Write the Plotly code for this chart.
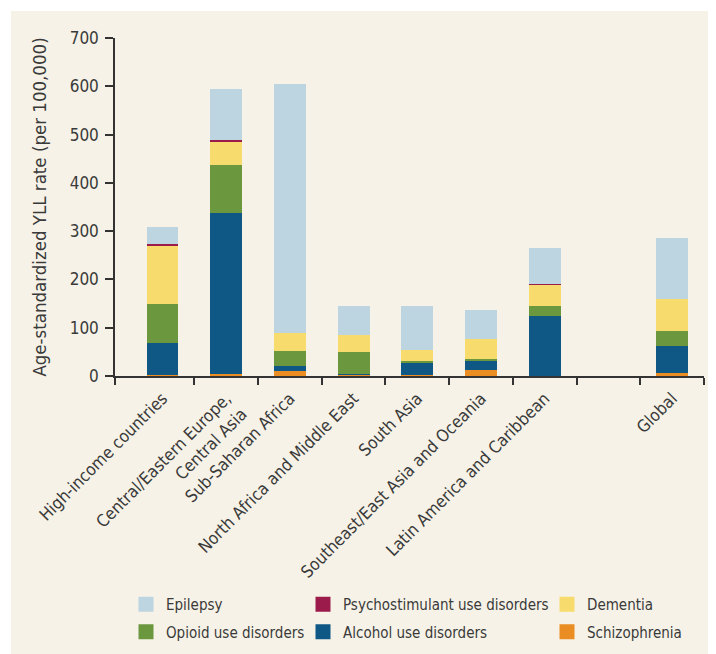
import plotly.graph_objects as go

# ---- data ----
regions = [
    "High-income countries",
    "Central/Eastern Europe,<br>Central Asia",
    "Sub-Saharan Africa",
    "North Africa and Middle East",
    "South Asia",
    "Southeast/East Asia and Oceania",
    "Latin America and Caribbean",
    "",
    "Global",
]
schizophrenia = [2, 5, 11, 3, 3, 13, 1, None, 7]
alcohol = [67, 333, 10, 2, 25, 19, 124, None, 56]
opioid = [81, 99, 31, 44, 3, 4, 19, None, 31]
dementia = [120, 48, 38, 35, 22, 40, 45, None, 66]
psychostimulant = [4, 4, 0, 0, 0, 0, 2, None, 0]
epilepsy = [35, 105, 515, 60, 93, 60, 75, None, 125]

y_ticks = [0, 100, 200, 300, 400, 500, 600, 700]
y_title = "Age-standardized YLL rate (per 100,000)"

# ---- styling ----
FONT = "DejaVu Sans Condensed, Liberation Sans Narrow, Arial Narrow, sans-serif"
TXT = "#3a3a3a"
CREAM = "#F6F2E7"
AX = "#333333"

x_pos = list(range(len(regions)))

# (name, values, colour, legend column, rank within column)
series = [
    ("Schizophrenia", schizophrenia, "#EA8E23", "legend3", 2),
    ("Alcohol use disorders", alcohol, "#0F5785", "legend2", 2),
    ("Opioid use disorders", opioid, "#6B983F", "legend", 2),
    ("Dementia", dementia, "#F7DC6D", "legend3", 1),
    ("Psychostimulant use disorders", psychostimulant, "#9B1B4B", "legend2", 1),
    ("Epilepsy", epilepsy, "#BDD5E1", "legend", 1),
]

fig = go.Figure()
for name, vals, col, lg, rank in series:
    fig.add_trace(go.Bar(
        x=x_pos, y=vals, name=name, width=0.5,
        marker=dict(color=col, line=dict(width=0)),
        legendgroup=name, showlegend=False,
    ))
    # legend key (larger square swatch than the default bar key)
    fig.add_trace(go.Scatter(
        x=[None], y=[None], mode="markers", name=name,
        marker=dict(symbol="square", size=15, color=col, line=dict(width=0)),
        legend=lg, legendgroup=name, legendrank=rank, showlegend=True,
        hoverinfo="skip",
    ))

# figure size (page has an 8px body margin) and plot area in figure pixels
FW, FH = 708, 646
L, R, T, B = 107, 696, 30, 368
W, H = R - L, B - T

def px(x):
    return (x - L) / W

def py(y):
    return (B - y) / H

x_lo = -0.745
boundaries = [x_lo] + [i + 0.5 for i in range(len(regions))]

legend_common = dict(
    orientation="v", xanchor="left", yanchor="top",
    font=dict(family=FONT, size=15, color=TXT),
    bgcolor="rgba(0,0,0,0)", traceorder="grouped",
    tracegroupgap=5, itemwidth=30,
)

fig.update_layout(
    width=FW, height=FH,
    margin=dict(l=L, r=FW - R, t=T, b=FH - B, pad=0, autoexpand=False),
    paper_bgcolor="white",
    plot_bgcolor="rgba(0,0,0,0)",
    barmode="stack",
    bargap=0,
    font=dict(family=FONT, color=TXT),
    showlegend=True,
    xaxis=dict(
        range=[x_lo, len(regions) - 0.5],
        tickmode="array", tickvals=x_pos, ticktext=regions,
        tickangle=-45, ticks="",
        tickfont=dict(family=FONT, size=17, color=TXT),
        ticklabelstandoff=4,
        showline=True, linecolor=AX, linewidth=1.8,
        showgrid=False, zeroline=False,
        minor=dict(tickmode="array", tickvals=boundaries, ticks="outside",
                   ticklen=7, tickwidth=1.5, tickcolor=AX, showgrid=False),
    ),
    yaxis=dict(
        range=[0, 700], tickmode="array", tickvals=y_ticks,
        ticks="outside", ticklen=8, tickwidth=1.5, tickcolor=AX,
        tickfont=dict(family=FONT, size=17, color=TXT),
        ticklabelstandoff=3,
        showline=True, linecolor=AX, linewidth=1.5,
        showgrid=False, zeroline=False,
        title=dict(text=y_title, font=dict(family=FONT, size=18.5, color=TXT), standoff=18),
    ),
    legend=dict(x=px(118), y=py(580), **legend_common),
    legend2=dict(x=px(295), y=py(580), **legend_common),
    legend3=dict(x=px(539), y=py(580), **legend_common),
    shapes=[dict(
        type="rect", xref="paper", yref="paper", layer="below",
        x0=px(3), x1=px(FW + 2), y0=py(FH + 2), y1=py(3),
        fillcolor=CREAM, line=dict(width=0),
    )],
)

fig.write_html("out.html")
